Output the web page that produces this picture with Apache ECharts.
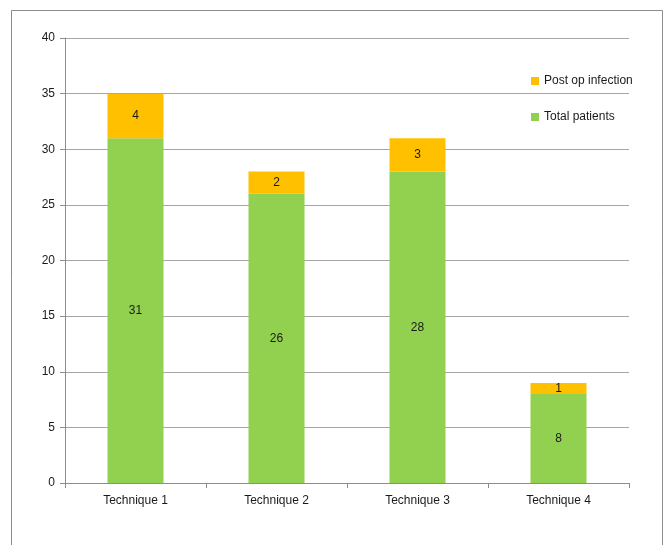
<!DOCTYPE html>
<html>
<head>
<meta charset="utf-8">
<script src="https://cdn.jsdelivr.net/npm/echarts@6/dist/echarts.min.js"></script>
<style>
  html, body { margin: 0; padding: 0; background: #fff; }
  #chart { width: 667px; height: 545px; }
</style>
</head>
<body>
<div id="chart"></div>
<script>
// Patients per surgical technique, split into infection-free and post-op infection counts
const categories = ['Technique 1', 'Technique 2', 'Technique 3', 'Technique 4'];
const totalPatients = [31, 26, 28, 8];
const postOpInfection = [4, 2, 3, 1];
const yTicks = { min: 0, max: 40, interval: 5 };

const font = 'Liberation Sans, Arial, sans-serif';
const chart = echarts.init(document.getElementById('chart'));

chart.setOption({
  animation: false,
  graphic: [{
    type: 'rect',
    shape: { x: 11.5, y: 10.5, width: 651, height: 560 },
    style: { fill: 'none', stroke: '#8c8c8c', lineWidth: 1 },
    silent: true
  }],
  grid: { left: 65, right: 38, top: 38, bottom: 62, containLabel: false },
  legend: [
    {
      data: ['Post op infection'],
      left: 526, top: 70, orient: 'vertical',
      itemWidth: 8, itemHeight: 8, itemGap: 10,
      textStyle: { fontFamily: font, fontSize: 12, color: '#1a1a1a' },
      icon: 'rect'
    },
    {
      data: ['Total patients'],
      left: 526, top: 106, orient: 'vertical',
      itemWidth: 8, itemHeight: 8,
      textStyle: { fontFamily: font, fontSize: 12, color: '#1a1a1a' },
      icon: 'rect'
    }
  ],
  xAxis: {
    type: 'category',
    data: categories,
    axisLine: { lineStyle: { color: '#8c8c8c' } },
    axisTick: { show: true, alignWithLabel: false, length: 5, lineStyle: { color: '#8c8c8c' } },
    axisLabel: { fontFamily: font, fontSize: 12, color: '#1a1a1a', margin: 12 }
  },
  yAxis: {
    type: 'value',
    min: yTicks.min, max: yTicks.max, interval: yTicks.interval,
    axisLine: { show: true, lineStyle: { color: '#8c8c8c' } },
    axisTick: { show: true, length: 5, lineStyle: { color: '#8c8c8c' } },
    axisLabel: { fontFamily: font, fontSize: 12, color: '#1a1a1a', margin: 10 },
    splitLine: { lineStyle: { color: '#a6a6a6', width: 1 } }
  },
  series: [
    {
      name: 'Total patients',
      type: 'bar',
      stack: 'patients',
      data: totalPatients,
      barWidth: 56,
      itemStyle: { color: '#92D050' },
      label: { show: true, position: 'inside', fontFamily: font, fontSize: 12, color: '#1a1a1a' }
    },
    {
      name: 'Post op infection',
      type: 'bar',
      stack: 'patients',
      data: postOpInfection,
      barWidth: 56,
      itemStyle: { color: '#FFC000' },
      label: { show: true, position: 'inside', fontFamily: font, fontSize: 12, color: '#1a1a1a' }
    }
  ]
});
</script>
</body>
</html>
